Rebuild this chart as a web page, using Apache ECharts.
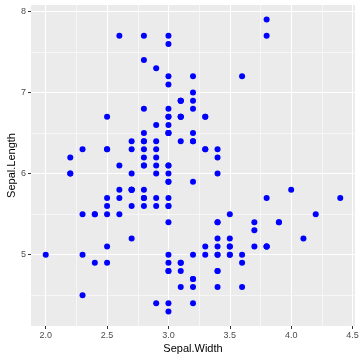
<!DOCTYPE html>
<html><head><meta charset="utf-8">
<script src="https://cdn.jsdelivr.net/npm/echarts@6/dist/echarts.min.js"></script>
<style>html,body{margin:0;padding:0;background:#fff}#c{width:360px;height:360px}</style>
</head><body><div id="c"></div>
<script>
const sepalWidth = [3.5,3.0,3.2,3.1,3.6,3.9,3.4,3.4,2.9,3.1,3.7,3.4,3.0,3.0,4.0,4.4,3.9,3.5,3.8,3.8,3.4,3.7,3.6,3.3,3.4,3.0,3.4,3.5,3.4,3.2,3.1,3.4,4.1,4.2,3.1,3.2,3.5,3.6,3.0,3.4,3.5,2.3,3.2,3.5,3.8,3.0,3.8,3.2,3.7,3.3,
3.2,3.2,3.1,2.3,2.8,2.8,3.3,2.4,2.9,2.7,2.0,3.0,2.2,2.9,2.9,3.1,3.0,2.7,2.2,2.5,3.2,2.8,2.5,2.8,2.9,3.0,2.8,3.0,2.9,2.6,2.4,2.4,2.7,2.7,3.0,3.4,3.1,2.3,3.0,2.5,2.6,3.0,2.6,2.3,2.7,3.0,2.9,2.9,2.5,2.8,
3.3,2.7,3.0,2.9,3.0,3.0,2.5,2.9,2.5,3.6,3.2,2.7,3.0,2.5,2.8,3.2,3.0,3.8,2.6,2.2,3.2,2.8,2.8,2.7,3.3,3.2,2.8,3.0,2.8,3.0,2.8,3.8,2.8,2.8,2.6,3.0,3.4,3.1,3.0,3.1,3.1,3.1,2.7,3.2,3.3,3.0,2.5,3.0,3.4,3.0];
const sepalLength = [5.1,4.9,4.7,4.6,5.0,5.4,4.6,5.0,4.4,4.9,5.4,4.8,4.8,4.3,5.8,5.7,5.4,5.1,5.7,5.1,5.4,5.1,4.6,5.1,4.8,5.0,5.0,5.2,5.2,4.7,4.8,5.4,5.2,5.5,4.9,5.0,5.5,4.9,4.4,5.1,5.0,4.5,4.4,5.0,5.1,4.8,5.1,4.6,5.3,5.0,
7.0,6.4,6.9,5.5,6.5,5.7,6.3,4.9,6.6,5.2,5.0,5.9,6.0,6.1,5.6,6.7,5.6,5.8,6.2,5.6,5.9,6.1,6.3,6.1,6.4,6.6,6.8,6.7,6.0,5.7,5.5,5.5,5.8,6.0,5.4,6.0,6.7,6.3,5.6,5.5,5.5,6.1,5.8,5.0,5.6,5.7,5.7,6.2,5.1,5.7,
6.3,5.8,7.1,6.3,6.5,7.6,4.9,7.3,6.7,7.2,6.5,6.4,6.8,5.7,5.8,6.4,6.5,7.7,7.7,6.0,6.9,5.6,7.7,6.3,6.7,7.2,6.2,6.1,6.4,7.2,7.4,7.9,6.4,6.3,6.1,7.7,6.3,6.4,6.0,6.9,6.7,6.9,5.8,6.8,6.7,6.7,6.3,6.5,6.2,5.9];
const xTicks = [2.0,2.5,3.0,3.5,4.0,4.5];
const xMinor = [2.25,2.75,3.25,3.75,4.25];
const yTicks = [5,6,7,8];
const yMinor = [4.5,5.5,6.5,7.5];

const points = sepalWidth.map((w,i)=>[w, sepalLength[i]]);
const xMin = 1.88, xMax = 4.52, yMin = 4.12, yMax = 8.08;

const chart = echarts.init(document.getElementById('c'), null, {renderer:'canvas'});
const font = 'Liberation Sans, Arial, sans-serif';
chart.setOption({
  animation:false,
  backgroundColor:'#ffffff',
  grid:{left:31,right:5,top:5,bottom:34,show:true,backgroundColor:'#EBEBEB',borderWidth:0,containLabel:false,outerBoundsMode:'none'},
  xAxis:[{
    type:'value',min:xMin,max:xMax,position:'bottom',
    name:'Sepal.Width',nameLocation:'middle',nameGap:17,nameMoveOverlap:false,
    nameTextStyle:{color:'#000',fontSize:11,fontFamily:font},
    axisLine:{show:false},
    axisTick:{show:true,length:3,lineStyle:{color:'#333333',width:1},customValues:xTicks},
    axisLabel:{show:true,color:'#4D4D4D',fontSize:9,fontFamily:font,margin:5,customValues:xTicks,formatter:v=>v.toFixed(1)},
    splitLine:{show:true,lineStyle:{color:'#FFFFFF',width:1.1}}
  },{
    type:'value',min:xMin,max:xMax,position:'bottom',
    axisLine:{show:false},
    axisTick:{show:false,customValues:xMinor},
    axisLabel:{show:false,customValues:xMinor},
    splitLine:{show:true,lineStyle:{color:'#FFFFFF',width:0.55}}
  }],
  yAxis:[{
    type:'value',min:yMin,max:yMax,position:'left',
    name:'Sepal.Length',nameLocation:'middle',nameGap:14,nameMoveOverlap:false,
    nameTextStyle:{color:'#000',fontSize:11,fontFamily:font},
    axisLine:{show:false},
    axisTick:{show:true,length:3,lineStyle:{color:'#333333',width:1},customValues:yTicks},
    axisLabel:{show:true,color:'#4D4D4D',fontSize:9,fontFamily:font,margin:5,customValues:yTicks},
    splitLine:{show:true,lineStyle:{color:'#FFFFFF',width:1.1}}
  },{
    type:'value',min:yMin,max:yMax,position:'left',
    axisLine:{show:false},
    axisTick:{show:false,customValues:yMinor},
    axisLabel:{show:false,customValues:yMinor},
    splitLine:{show:true,lineStyle:{color:'#FFFFFF',width:0.55}}
  }],
  series:[{
    type:'scatter',xAxisIndex:0,yAxisIndex:0,
    data:points,symbol:'circle',symbolSize:6,
    itemStyle:{color:'#0000FF',opacity:1},
    z:5
  }]
});
</script></body></html>
